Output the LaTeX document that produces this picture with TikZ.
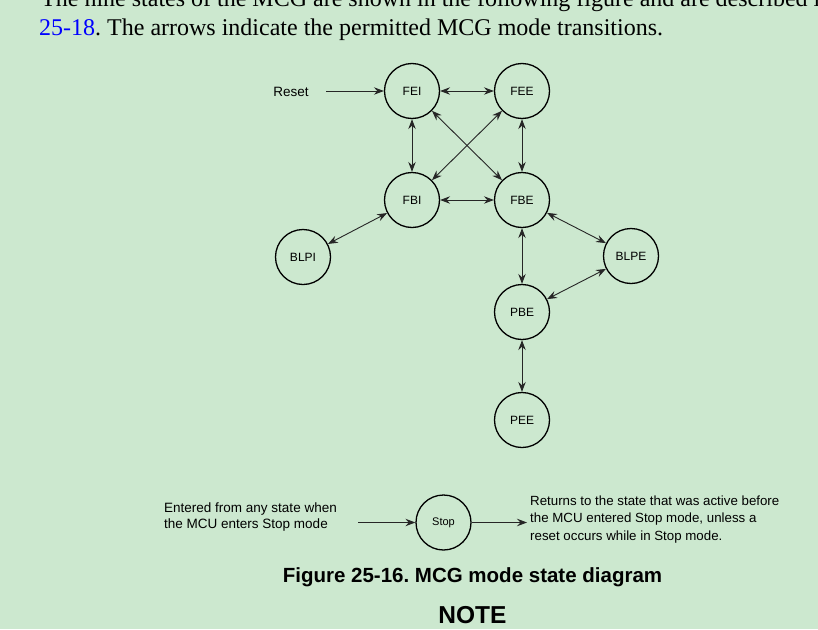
\documentclass[tikz,border=0pt]{standalone}
\usepackage{fontspec}
\setmainfont{Liberation Sans}
\newfontfamily\seriffont{Liberation Serif}
\usetikzlibrary{arrows.meta}
\definecolor{bg}{RGB}{204,232,207}
\definecolor{linkblue}{RGB}{0,0,255}
\frenchspacing
\begin{document}
\begin{tikzpicture}[x=1pt,y=-1pt,
  state/.style={circle,draw,line width=1.3pt,minimum size=55pt,inner sep=0pt,font=\fontsize{12}{14}\selectfont},
  link/.style={{Stealth[length=10pt,width=7.5pt,inset=3.5pt]}-{Stealth[length=10pt,width=7.5pt,inset=3.5pt]},line width=0.9pt,draw=black!85},
  oneway/.style={-{Stealth[length=10pt,width=7.5pt,inset=3.5pt]},line width=0.9pt,draw=black!85},
  lbl/.style={font=\fontsize{13.5}{16}\selectfont,inner sep=0pt},
  body/.style={font=\seriffont\fontsize{24}{28}\selectfont,inner sep=0pt,anchor=base west}]
\fill[bg] (0,0) rectangle (818,629);
\clip (0,0) rectangle (818,629);
% top text
\node[body] (l1) at (41,6) {The nine states of the MCG are shown in the following figure and are described in};
\node[body] (l2) at (39,35) {\textcolor{linkblue}{25-18}. The arrows indicate the permitted MCG mode transitions.};
% states
\node[state] (FEI) at (412,91) {FEI};
\node[state] (FEE) at (522,91) {FEE};
\node[state] (FBI) at (412,200) {FBI};
\node[state] (FBE) at (522,200) {FBE};
\node[state] (BLPI) at (303,257) {BLPI};
\node[state] (BLPE) at (631,256) {BLPE};
\node[state] (PBE) at (522,312) {PBE};
\node[state] (PEE) at (522,420) {PEE};
\node[state,font=\fontsize{11}{13}\selectfont] (Stop) at (443.5,522.5) {Stop};
% reset
\node[lbl] (reset) at (291,91.5) {Reset};
\coordinate (rs) at (326,91);
\draw[oneway] (rs) -- (FEI);
% transitions
\draw[link] (FEI) -- (FEE);
\draw[link] (FEI) -- (FBI);
\draw[link] (FEE) -- (FBE);
\draw[link] (FEI) -- (FBE);
\draw[link] (FEE) -- (FBI);
\draw[link] (FBI) -- (FBE);
\draw[link] (FBI) -- (BLPI);
\draw[link] (FBE) -- (BLPE);
\draw[link] (FBE) -- (PBE);
\draw[link] (BLPE) -- (PBE);
\draw[link] (PBE) -- (PEE);
% stop
\coordinate (sin) at (358,522.5);
\coordinate (sout) at (527,522.5);
\draw[oneway] (sin) -- (Stop);
\draw[oneway] (Stop) -- (sout);
\node[lbl,anchor=west,align=left,font=\fontsize{13.5}{16}\selectfont] (entered) at (164,516.5) {Entered from any state when\\the MCU enters Stop mode};
\node[lbl,anchor=west,align=left,font=\fontsize{13.3}{17.5}\selectfont] (returns) at (530,519.5) {Returns to the state that was active before\\the MCU entered Stop mode, unless a\\reset occurs while in Stop mode.};
% caption
\node[font=\bfseries\fontsize{20.5}{24}\selectfont,inner sep=0pt,anchor=base] (cap) at (472.5,582) {Figure 25-16. MCG mode state diagram};
\node[font=\bfseries\fontsize{24.5}{28}\selectfont,inner sep=0pt,anchor=base] (note) at (472.5,623) {NOTE};
\end{tikzpicture}
\end{document}
